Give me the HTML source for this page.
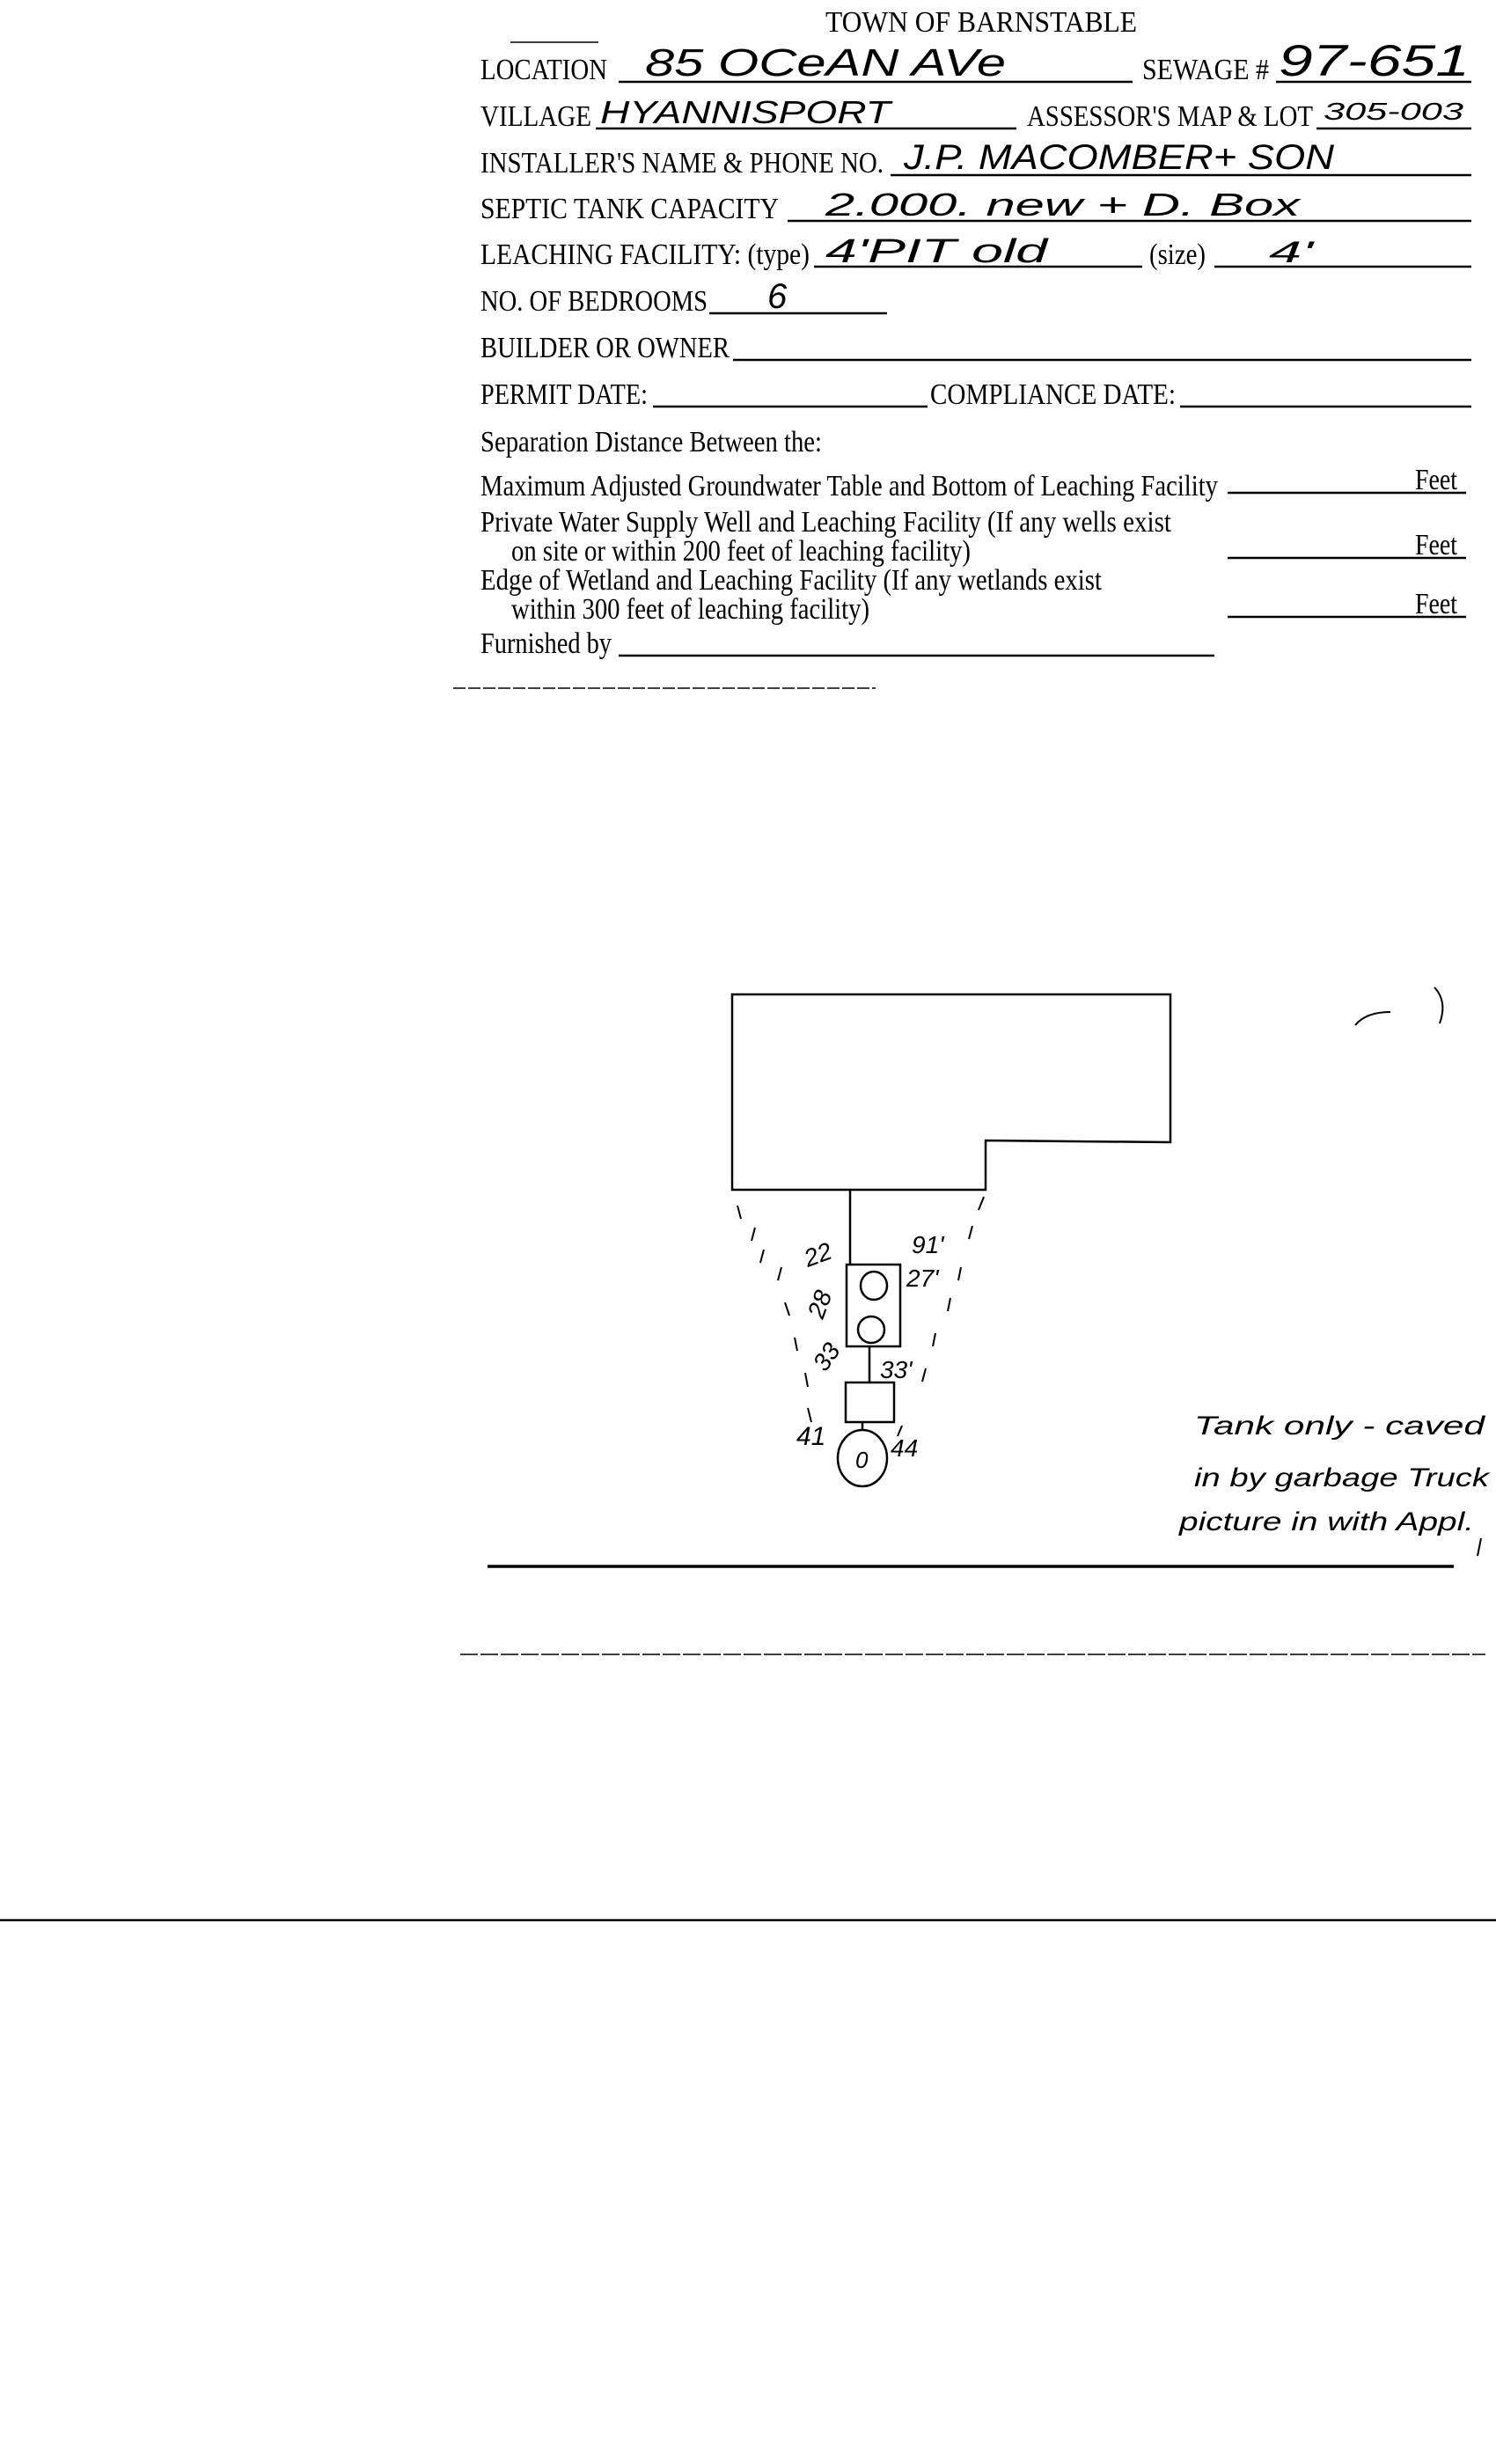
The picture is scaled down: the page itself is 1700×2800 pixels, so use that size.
<!DOCTYPE html>
<html><head><meta charset="utf-8"><style>
html,body{margin:0;padding:0;background:#fff;}
svg{display:block;}
.f{font-family:"Liberation Serif",serif;font-size:34px;fill:#000;}
.h{font-family:"Liberation Sans",sans-serif;font-style:italic;fill:#000;}
</style></head><body>
<svg width="1700" height="2800" viewBox="0 0 1700 2800" xmlns="http://www.w3.org/2000/svg">
<rect width="1700" height="2800" fill="#fff"/>
<g class="f" style="text-anchor:start">
<text x="938" y="36" textLength="354" lengthAdjust="spacingAndGlyphs">TOWN OF BARNSTABLE</text>
<text x="546" y="90" textLength="144" lengthAdjust="spacingAndGlyphs">LOCATION</text>
<text x="1298" y="90" textLength="144" lengthAdjust="spacingAndGlyphs">SEWAGE #</text>
<text x="546" y="143" textLength="126" lengthAdjust="spacingAndGlyphs">VILLAGE</text>
<text x="1167" y="143" textLength="325" lengthAdjust="spacingAndGlyphs">ASSESSOR'S MAP &amp; LOT</text>
<text x="546" y="196" textLength="458" lengthAdjust="spacingAndGlyphs">INSTALLER'S NAME &amp; PHONE NO.</text>
<text x="546" y="248" textLength="339" lengthAdjust="spacingAndGlyphs">SEPTIC TANK CAPACITY</text>
<text x="546" y="300" textLength="374" lengthAdjust="spacingAndGlyphs">LEACHING FACILITY: (type)</text>
<text x="1306" y="300" textLength="64" lengthAdjust="spacingAndGlyphs">(size)</text>
<text x="546" y="353" textLength="258" lengthAdjust="spacingAndGlyphs">NO. OF BEDROOMS</text>
<text x="546" y="406" textLength="283" lengthAdjust="spacingAndGlyphs">BUILDER OR OWNER</text>
<text x="546" y="459" textLength="190" lengthAdjust="spacingAndGlyphs">PERMIT DATE:</text>
<text x="1057" y="459" textLength="279" lengthAdjust="spacingAndGlyphs">COMPLIANCE DATE:</text>
<text x="546" y="513" textLength="388" lengthAdjust="spacingAndGlyphs">Separation Distance Between the:</text>
<text x="546" y="563" textLength="838" lengthAdjust="spacingAndGlyphs">Maximum Adjusted Groundwater Table and Bottom of Leaching Facility</text>
<text x="546" y="604" textLength="785" lengthAdjust="spacingAndGlyphs">Private Water Supply Well and Leaching Facility (If any wells exist</text>
<text x="581" y="637" textLength="522" lengthAdjust="spacingAndGlyphs">on site or within 200 feet of leaching facility)</text>
<text x="546" y="670" textLength="706" lengthAdjust="spacingAndGlyphs">Edge of Wetland and Leaching Facility (If any wetlands exist</text>
<text x="581" y="703" textLength="407" lengthAdjust="spacingAndGlyphs">within 300 feet of leaching facility)</text>
<text x="546" y="742" textLength="149" lengthAdjust="spacingAndGlyphs">Furnished by</text>
<text x="1608" y="556" textLength="48" lengthAdjust="spacingAndGlyphs">Feet</text>
<text x="1608" y="630" textLength="48" lengthAdjust="spacingAndGlyphs">Feet</text>
<text x="1608" y="697" textLength="48" lengthAdjust="spacingAndGlyphs">Feet</text>
</g>
<g stroke="#000" stroke-width="2.5">
<line x1="703" y1="93" x2="1287" y2="93"/>
<line x1="1450" y1="93" x2="1672" y2="93"/>
<line x1="677" y1="146" x2="1155" y2="146"/>
<line x1="1496" y1="146" x2="1672" y2="146"/>
<line x1="1012" y1="199" x2="1672" y2="199"/>
<line x1="895" y1="251" x2="1672" y2="251"/>
<line x1="925" y1="303" x2="1298" y2="303"/>
<line x1="1380" y1="303" x2="1672" y2="303"/>
<line x1="806" y1="356" x2="1008" y2="356"/>
<line x1="833" y1="409" x2="1672" y2="409"/>
<line x1="742" y1="462" x2="1054" y2="462"/>
<line x1="1341" y1="462" x2="1672" y2="462"/>
<line x1="1395" y1="560" x2="1666" y2="560"/>
<line x1="1395" y1="634" x2="1666" y2="634"/>
<line x1="1395" y1="701" x2="1666" y2="701"/>
<line x1="703" y1="745" x2="1380" y2="745"/>
</g>
<line x1="515" y1="782" x2="995" y2="782" stroke="#000" stroke-width="1.5" stroke-dasharray="14 3"/>
<line x1="580" y1="48" x2="680" y2="48" stroke="#000" stroke-width="1.5"/>
<g class="h">
<text x="733" y="86" font-size="44" textLength="410" lengthAdjust="spacingAndGlyphs">85 OCeAN  AVe</text>
<text x="1453" y="86" font-size="50" textLength="217" lengthAdjust="spacingAndGlyphs">97-651</text>
<text x="682" y="140" font-size="36" textLength="330" lengthAdjust="spacingAndGlyphs">HYANNISPORT</text>
<text x="1504" y="136" font-size="28" textLength="159" lengthAdjust="spacingAndGlyphs">305-003</text>
<text x="1027" y="192" font-size="40" textLength="489" lengthAdjust="spacingAndGlyphs">J.P. MACOMBER+ SON</text>
<text x="938" y="245" font-size="36" textLength="539" lengthAdjust="spacingAndGlyphs">2.000. new + D. Box</text>
<text x="938" y="298" font-size="38" textLength="252" lengthAdjust="spacingAndGlyphs">4'PIT  old</text>
<text x="1442" y="298" font-size="34" textLength="50" lengthAdjust="spacingAndGlyphs">4'</text>
<text x="872" y="350" font-size="40">6</text>
<text x="1357" y="1630" font-size="30" textLength="330" lengthAdjust="spacingAndGlyphs">Tank only - caved</text>
<text x="1357" y="1689" font-size="30" textLength="335" lengthAdjust="spacingAndGlyphs">in by garbage Truck</text>
<text x="1340" y="1739" font-size="30" textLength="335" lengthAdjust="spacingAndGlyphs">picture in with Appl.</text>
<text x="918" y="1440" font-size="28" transform="rotate(-20 918 1440)">22</text>
<text x="1036" y="1424" font-size="28">91'</text>
<text x="1030" y="1462" font-size="28">27'</text>
<text x="935" y="1500" font-size="28" transform="rotate(-70 935 1500)">28</text>
<text x="938" y="1560" font-size="28" transform="rotate(-55 938 1560)">33</text>
<text x="1000" y="1566" font-size="28">33'</text>
<text x="905" y="1642" font-size="30">41</text>
<text x="1012" y="1655" font-size="28">44</text>
</g>
<g stroke="#000" stroke-width="2.5" fill="none">
<path d="M832 1352 L832 1130 L1330 1130 L1330 1298 L1120 1296 L1120 1352 Z"/>
<line x1="966" y1="1352" x2="966" y2="1437"/>
<rect x="962" y="1437" width="61" height="93"/>
<ellipse cx="993" cy="1461" rx="15" ry="16"/>
<ellipse cx="990" cy="1511" rx="15" ry="15"/>
<line x1="988" y1="1530" x2="988" y2="1571"/>
<rect x="961" y="1571" width="55" height="45"/>
<line x1="980" y1="1616" x2="980" y2="1625"/>
<ellipse cx="980" cy="1657" rx="28" ry="32"/>
<text x="972" y="1668" class="h" font-size="26" stroke="none" fill="#000">0</text>
</g>
<g stroke="#000" stroke-width="2">
<line x1="838" y1="1370" x2="842" y2="1385"/><line x1="858" y1="1395" x2="854" y2="1410"/>
<line x1="868" y1="1420" x2="864" y2="1435"/><line x1="888" y1="1440" x2="884" y2="1455"/>
<line x1="892" y1="1480" x2="897" y2="1495"/><line x1="903" y1="1520" x2="906" y2="1535"/>
<line x1="915" y1="1560" x2="918" y2="1576"/><line x1="918" y1="1600" x2="922" y2="1616"/>
<line x1="1118" y1="1360" x2="1112" y2="1375"/><line x1="1105" y1="1393" x2="1101" y2="1408"/>
<line x1="1092" y1="1440" x2="1089" y2="1455"/><line x1="1080" y1="1475" x2="1077" y2="1490"/>
<line x1="1063" y1="1515" x2="1060" y2="1530"/><line x1="1052" y1="1555" x2="1048" y2="1570"/>
<line x1="1025" y1="1620" x2="1020" y2="1632"/>
<line x1="1683" y1="1748" x2="1679" y2="1768"/>
</g>
<path d="M1540 1165 Q1552 1150 1580 1150" stroke="#000" stroke-width="2" fill="none"/>
<path d="M1630 1122 Q1645 1138 1636 1163" stroke="#000" stroke-width="2" fill="none"/>
<line x1="554" y1="1780" x2="1652" y2="1780" stroke="#000" stroke-width="3.5"/>
<line x1="523" y1="1880" x2="1688" y2="1880" stroke="#000" stroke-width="1.5" stroke-dasharray="20 3"/>
<line x1="0" y1="2182" x2="1700" y2="2182" stroke="#000" stroke-width="2.5"/>
</svg>
</body></html>
